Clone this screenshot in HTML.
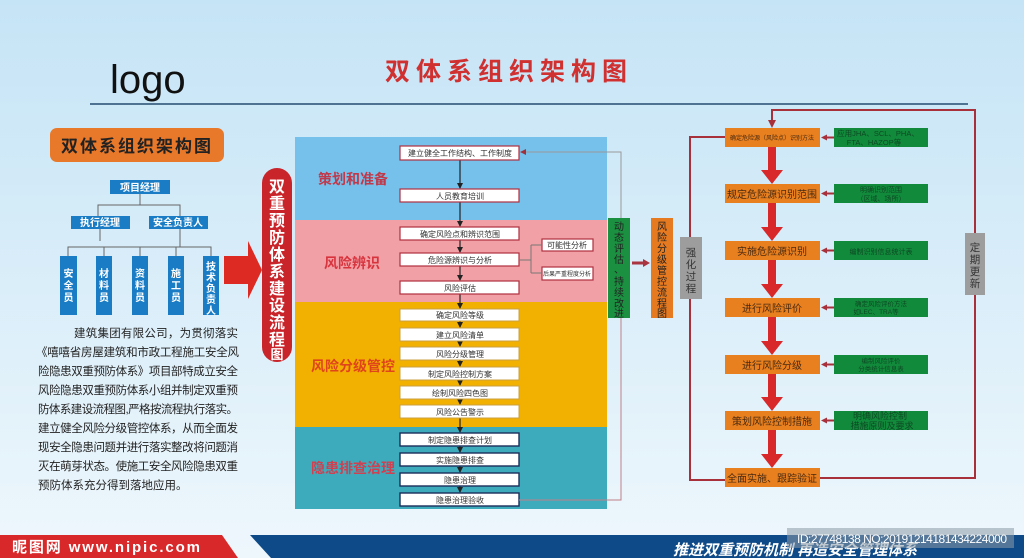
<!DOCTYPE html>
<html><head><meta charset="utf-8"><style>
html,body{margin:0;padding:0;width:1024px;height:558px;overflow:hidden}
svg{display:block}
text{font-family:"Liberation Sans","Noto Sans CJK SC",sans-serif}
</style></head><body>
<svg width="1024" height="558" viewBox="0 0 1024 558" xmlns="http://www.w3.org/2000/svg">
<defs>
<linearGradient id="bg" x1="0" y1="0" x2="0" y2="1"><stop offset="0" stop-color="#c5e4f6"/><stop offset="1" stop-color="#eef7fc"/></linearGradient>
<marker id="ah" markerUnits="userSpaceOnUse" markerWidth="6" markerHeight="6" refX="5" refY="3" orient="auto"><path d="M0,0L6,3L0,6z" fill="#222"/></marker>
<marker id="ar" markerUnits="userSpaceOnUse" markerWidth="6" markerHeight="6" refX="5" refY="3" orient="auto"><path d="M0,0L6,3L0,6z" fill="#a0303a"/></marker>
</defs>
<rect width="1024" height="558" fill="url(#bg)"/>
<text x="110" y="93" font-size="40" fill="#111">logo</text>
<text x="385" y="80" font-size="25" font-weight="bold" fill="#d03030" letter-spacing="6">双体系组织架构图</text>
<line x1="90" y1="104" x2="968" y2="104" stroke="#244d70" stroke-width="1.5"/>

<!-- left org -->
<rect x="50" y="128" width="174" height="34" rx="7" fill="#e8782a"/>
<text x="137" y="152" font-size="17" font-weight="bold" fill="#222" text-anchor="middle" letter-spacing="2">双体系组织架构图</text>
<g stroke="#666" stroke-width="1" fill="none">
<path d="M140,194V205M98,216V205H180V216M100,229V241M180,229V247M68,256V247H211V256M104,247V256M140,247V256M176,247V256"/>
</g>
<g fill="#1a7cc4">
<rect x="110" y="180" width="60" height="14"/>
<rect x="71" y="216" width="59" height="13"/>
<rect x="149" y="216" width="59" height="13"/>
<rect x="60" y="256" width="17" height="59"/><rect x="96" y="256" width="16" height="59"/><rect x="132" y="256" width="16" height="59"/><rect x="168" y="256" width="16" height="59"/><rect x="203" y="256" width="16" height="59"/>
</g>
<g fill="#fff" font-size="10" font-weight="bold" text-anchor="middle">
<text x="140" y="191">项目经理</text>
<text x="100" y="226">执行经理</text>
<text x="178" y="226">安全负责人</text>
<text x="68.5" y="277">安</text><text x="68.5" y="289">全</text><text x="68.5" y="301">员</text>
<text x="104" y="277">材</text><text x="104" y="289">料</text><text x="104" y="301">员</text>
<text x="140" y="277">资</text><text x="140" y="289">料</text><text x="140" y="301">员</text>
<text x="176" y="277">施</text><text x="176" y="289">工</text><text x="176" y="301">员</text>
<text x="211" y="270">技</text><text x="211" y="281">术</text><text x="211" y="292">负</text><text x="211" y="303">责</text><text x="211" y="314">人</text>
</g>
<path d="M224,256H248V241L262,270L248,299V284H224z" fill="#dd2a22"/>
<rect x="262" y="168" width="30" height="194" rx="15" fill="#c8242a"/>
<g fill="#fff" font-size="16" font-weight="bold" text-anchor="middle">
<text x="277" y="192">双</text><text x="277" y="209">重</text><text x="277" y="226">预</text><text x="277" y="243">防</text><text x="277" y="260">体</text><text x="277" y="277">系</text><text x="277" y="294">建</text><text x="277" y="311">设</text><text x="277" y="328">流</text><text x="277" y="345">程</text><text x="277" y="359" font-size="13">图</text>
</g>
<g font-size="11.5" fill="#222">
<text x="74" y="337" textLength="164">建筑集团有限公司，为贯彻落实</text>
<text x="36" y="356" textLength="203">《嘻嘻省房屋建筑和市政工程施工安全风</text>
<text x="38" y="375" textLength="200">险隐患双重预防体系》项目部特成立安全</text>
<text x="38" y="394" textLength="200">风险隐患双重预防体系小组并制定双重预</text>
<text x="38" y="413" textLength="200">防体系建设流程图,严格按流程执行落实。</text>
<text x="38" y="432" textLength="200">建立健全风险分级管控体系，从而全面发</text>
<text x="38" y="451" textLength="200">现安全隐患问题并进行落实整改将问题消</text>
<text x="38" y="470" textLength="200">灭在萌芽状态。使施工安全风险隐患双重</text>
<text x="38" y="489">预防体系充分得到落地应用。</text>
</g>

<!-- middle panel -->
<rect x="295" y="137" width="312" height="83" fill="#76c1eb"/>
<rect x="295" y="220" width="312" height="82" fill="#f1a0a6"/>
<rect x="295" y="302" width="312" height="125" fill="#f2b000"/>
<rect x="295" y="427" width="312" height="82" fill="#3eabbd"/>
<g font-size="14" font-weight="bold" text-anchor="middle">
<text x="353" y="184" fill="#c0394a">策划和准备</text>
<text x="352" y="268" fill="#d8343e">风险辨识</text>
<text x="353" y="371" fill="#e0441c">风险分级管控</text>
<text x="353" y="473" fill="#cf4050">隐患排查治理</text>
</g>
<g stroke="#222" stroke-width="1.2" marker-end="url(#ah)">
<line x1="460" y1="160" x2="460" y2="188"/><line x1="460" y1="202" x2="460" y2="226"/>
<line x1="460" y1="240" x2="460" y2="252"/><line x1="460" y1="266" x2="460" y2="280"/><line x1="460" y1="294" x2="460" y2="308"/>
<line x1="460" y1="321" x2="460" y2="327"/><line x1="460" y1="341" x2="460" y2="346"/><line x1="460" y1="360" x2="460" y2="366"/><line x1="460" y1="380" x2="460" y2="385"/><line x1="460" y1="399" x2="460" y2="404"/><line x1="460" y1="418" x2="460" y2="432"/><line x1="460" y1="446" x2="460" y2="452"/><line x1="460" y1="466" x2="460" y2="472"/><line x1="460" y1="486" x2="460" y2="492"/>
</g>
<g fill="#fff" stroke="#b03040" stroke-width="1.2">
<rect x="400" y="146" width="119" height="14"/><rect x="400" y="189" width="119" height="13"/>
<rect x="400" y="227" width="119" height="13"/><rect x="400" y="253" width="119" height="13"/><rect x="400" y="281" width="119" height="13"/>
<rect x="542" y="239" width="51" height="12"/><rect x="542" y="267" width="51" height="13"/>
</g>
<g fill="#fff" stroke="#c9a040" stroke-width="1">
<rect x="400" y="309" width="119" height="12"/><rect x="400" y="328" width="119" height="13"/><rect x="400" y="347" width="119" height="13"/><rect x="400" y="367" width="119" height="13"/><rect x="400" y="386" width="119" height="13"/><rect x="400" y="405" width="119" height="13"/>
</g>
<g fill="#fff" stroke="#1b2e5a" stroke-width="1.4">
<rect x="400" y="433" width="119" height="13"/><rect x="400" y="453" width="119" height="13"/><rect x="400" y="473" width="119" height="13"/><rect x="400" y="493" width="119" height="13"/>
</g>
<g font-size="8" fill="#333" text-anchor="middle">
<text x="460" y="156">建立健全工作结构、工作制度</text><text x="460" y="199">人员教育培训</text>
<text x="460" y="237">确定风险点和辨识范围</text><text x="460" y="263">危险源辨识与分析</text><text x="460" y="291">风险评估</text>
<text x="460" y="318">确定风险等级</text><text x="460" y="338">建立风险清单</text><text x="460" y="357">风险分级管理</text><text x="460" y="377">制定风险控制方案</text><text x="460" y="396">绘制风险四色图</text><text x="460" y="415">风险公告警示</text>
<text x="460" y="443">制定隐患排查计划</text><text x="460" y="463">实施隐患排查</text><text x="460" y="483">隐患治理</text><text x="460" y="503">隐患治理验收</text>
<text x="567" y="248">可能性分析</text><text x="567" y="276" font-size="6">后果严重程度分析</text>
</g>
<path d="M519,260H531M531,245V273M531,245H542M531,273H542" stroke="#777" fill="none"/>
<path d="M621,218V152H521" stroke="#999" fill="none" marker-end="url(#ar)"/>
<path d="M621,318V500H519" stroke="#c08088" fill="none"/>
<rect x="608" y="218" width="22" height="100" fill="#1a9040"/>
<g font-size="10" fill="#222" text-anchor="middle">
<text x="619" y="230">动</text><text x="619" y="241">态</text><text x="619" y="252">评</text><text x="619" y="263">估</text><text x="619" y="273">、</text><text x="619" y="285">持</text><text x="619" y="296">续</text><text x="619" y="307">改</text><text x="619" y="317">进</text>
</g>
<line x1="632" y1="263" x2="647" y2="263" stroke="#a83540" stroke-width="3"/>
<path d="M643,259L650,263L643,267z" fill="#a83540"/>
<rect x="651" y="218" width="22" height="100" fill="#e57a20"/>
<g font-size="10" fill="#222" text-anchor="middle">
<text x="662" y="230">风</text><text x="662" y="241">险</text><text x="662" y="252">分</text><text x="662" y="263">级</text><text x="662" y="274">管</text><text x="662" y="285">控</text><text x="662" y="296">流</text><text x="662" y="307">程</text><text x="662" y="317">图</text>
</g>

<!-- right flow -->
<path d="M725,137H690V480H726M820,478H975V110H772V122" stroke="#a8303a" stroke-width="2" fill="none"/>
<path d="M768,120h8l-4,8z" fill="#a8303a"/>
<g fill="#d8282a">
<path d="M768,146h8v24h7l-11,14l-11-14h7z"/>
<path d="M768,203h8v24h7l-11,14l-11-14h7z"/>
<path d="M768,259h8v25h7l-11,14l-11-14h7z"/>
<path d="M768,316h8v25h7l-11,14l-11-14h7z"/>
<path d="M768,373h8v24h7l-11,14l-11-14h7z"/>
<path d="M768,429h8v25h7l-11,14l-11-14h7z"/>
</g>
<g fill="#e9801f">
<rect x="725" y="128" width="95" height="19"/><rect x="725" y="184" width="95" height="19"/><rect x="725" y="241" width="95" height="19"/><rect x="725" y="298" width="95" height="19"/><rect x="725" y="355" width="95" height="19"/><rect x="725" y="411" width="95" height="19"/><rect x="725" y="468" width="95" height="19"/>
</g>
<g fill="#128a3c">
<rect x="834" y="128" width="94" height="19"/><rect x="834" y="184" width="94" height="19"/><rect x="834" y="241" width="94" height="19"/><rect x="834" y="298" width="94" height="19"/><rect x="834" y="355" width="94" height="19"/><rect x="834" y="411" width="94" height="19"/>
</g>
<g stroke="#a8303a" stroke-width="2">
<line x1="834" y1="137.5" x2="826" y2="137.5"/><line x1="834" y1="193.5" x2="826" y2="193.5"/><line x1="834" y1="250.5" x2="826" y2="250.5"/><line x1="834" y1="307.5" x2="826" y2="307.5"/><line x1="834" y1="364.5" x2="826" y2="364.5"/><line x1="834" y1="420.5" x2="826" y2="420.5"/>
</g>
<g fill="#a8303a">
<path d="M821,137.5l6,-3v6z"/><path d="M821,193.5l6,-3v6z"/><path d="M821,250.5l6,-3v6z"/><path d="M821,307.5l6,-3v6z"/><path d="M821,364.5l6,-3v6z"/><path d="M821,420.5l6,-3v6z"/>
</g>
<g fill="#4a2a10" text-anchor="middle">
<text x="772" y="140" font-size="6">确定危险源（风险点）识别方法</text>
<text x="772" y="198" font-size="10">规定危险源识别范围</text>
<text x="772" y="255" font-size="10">实施危险源识别</text>
<text x="772" y="312" font-size="10">进行风险评价</text>
<text x="772" y="369" font-size="10">进行风险分级</text>
<text x="772" y="425" font-size="10">策划风险控制措施</text>
<text x="772" y="482" font-size="10">全面实施、跟踪验证</text>
</g>
<g fill="#0c4a22" text-anchor="middle">
<text x="878" y="136" font-size="7.5">应用JHA、SCL、PHA、</text><text x="874" y="145" font-size="7.5">FTA、HAZOP等</text>
<text x="881" y="192" font-size="7">明确识别范围</text><text x="881" y="201" font-size="7">（区域、场所）</text>
<text x="881" y="254" font-size="7">编制识别信息统计表</text>
<text x="881" y="306" font-size="6.5">确定风险评价方法</text><text x="876" y="314" font-size="6.5">如LEC、TRA等</text>
<text x="881" y="363" font-size="6.5">编制风险评价</text><text x="881" y="371" font-size="6.5">分类统计信息表</text>
<text x="880" y="419" font-size="9">明确风险控制</text><text x="882" y="429" font-size="9">措施原则及要求</text>
</g>
<rect x="680" y="237" width="22" height="62" fill="#9d9d9d"/>
<rect x="965" y="233" width="20" height="62" fill="#9d9d9d"/>
<g font-size="10.5" fill="#333" text-anchor="middle">
<text x="691" y="256">强</text><text x="691" y="268">化</text><text x="691" y="280">过</text><text x="691" y="292">程</text>
<text x="975" y="251">定</text><text x="975" y="263">期</text><text x="975" y="275">更</text><text x="975" y="287">新</text>
</g>

<!-- bottom band -->
<path d="M0,535H222L238,558H0z" fill="#d8282a"/>
<path d="M250,535H1024V558H271z" fill="#0e4a88"/>
<text x="12" y="552" font-size="15" font-weight="bold" fill="#fff" textLength="188">昵图网 www.nipic.com</text>
<text x="673" y="555" font-size="15" font-weight="bold" font-style="italic" fill="#fff">推进双重预防机制  再造安全管理体系</text>
<rect x="787" y="528" width="227" height="20" fill="#8c9aa8" opacity="0.55"/>
<text x="797" y="543" font-size="12" fill="#fff" textLength="210">ID:27748138 NO:20191214181434224000</text>
</svg>
</body></html>
